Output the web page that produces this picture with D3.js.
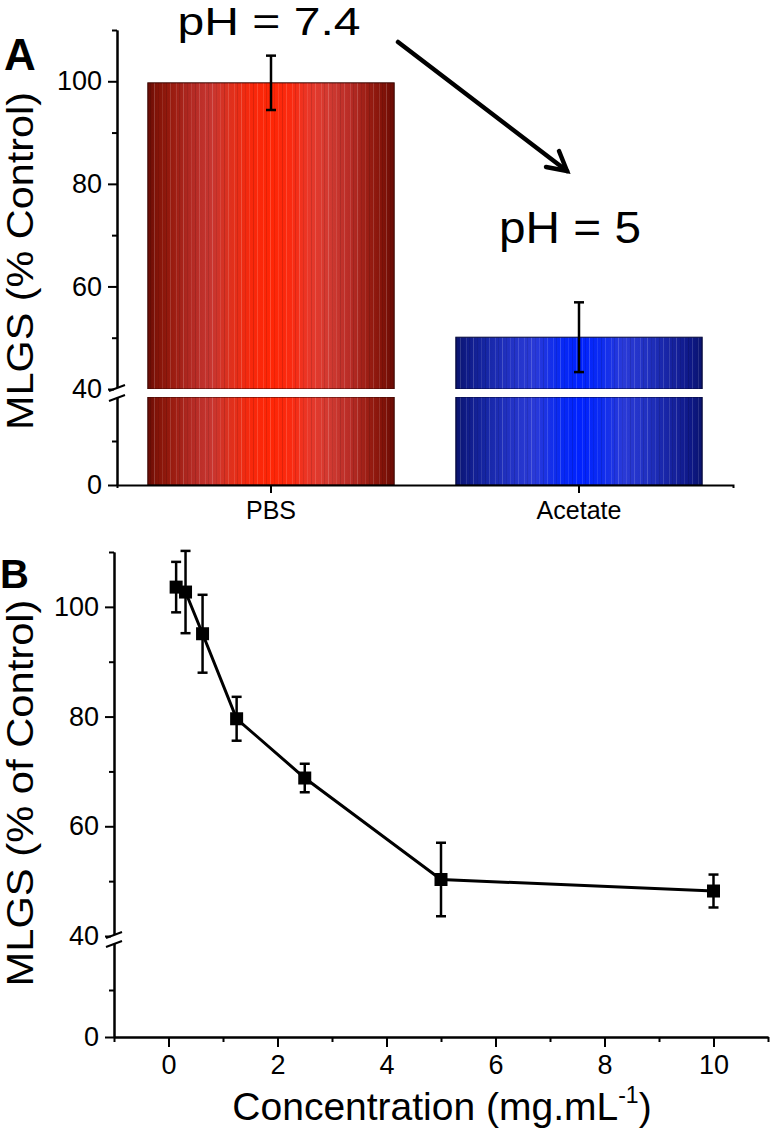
<!DOCTYPE html>
<html><head><meta charset="utf-8">
<script src="https://cdn.jsdelivr.net/npm/d3@7/dist/d3.min.js"></script>
<style>
html,body{margin:0;padding:0;background:#fff;}
svg{display:block;}
text{font-family:"Liberation Sans",Arial,Helvetica,sans-serif;fill:#000;}
</style></head>
<body>
<svg id="chart" width="771" height="1130"></svg>
<script>
// ---------- data ----------
const categories = ["PBS", "Acetate"];
const barValues = [99.7, 50.1];
const barErrors = [5.3, 6.8];
const barColors = ["red", "blue"];
const phLabels = ["pH = 7.4", "pH = 5"];

const concentrations = [0.14, 0.3125, 0.625, 1.25, 2.5, 5, 10];
const mlgs = [103.6, 102.7, 95.1, 79.6, 68.8, 50.3, 48.2];
const mlgsErr = [4.6, 7.5, 7.1, 4.0, 2.6, 6.7, 3.0];

const yMajorUpper = [40, 60, 80, 100];
const yMinorUpper = [50, 70, 90, 110];
const yMajorLower = [0];
const yMinorLower = [20];
const xMajor = [0, 2, 4, 6, 8, 10];
const xMinor = [-1, 1, 3, 5, 7, 9, 11];

const svg = d3.select("#chart");
const FONT = "Liberation Sans, Arial, sans-serif";

// gradients
const defs = svg.append("defs");
function grad(id, stops) {
  const g = defs.append("linearGradient").attr("id", id).attr("x1", "0%").attr("x2", "100%").attr("y1", "0%").attr("y2", "0%");
  stops.forEach(s => g.append("stop").attr("offset", s[0] + "%").attr("stop-color", s[1]));
}
grad("red", [[0,"#6a0c05"],[4,"#841408"],[10,"#9a1c10"],[18,"#b42a24"],[26,"#c83630"],[34,"#e0301c"],[42,"#f8280c"],[50,"#ff2606"],[58,"#fa2a10"],[66,"#e8382a"],[74,"#d03a32"],[82,"#b82c26"],[90,"#981c12"],[96,"#801208"],[100,"#6a0c05"]]);
grad("blue", [[0,"#0a146e"],[5,"#101c8a"],[12,"#1626a4"],[22,"#2232c4"],[32,"#2a3ad8"],[42,"#0a2af2"],[50,"#0022ff"],[58,"#0a2af4"],[68,"#2a3ad8"],[78,"#2030c0"],[88,"#16229e"],[95,"#0e1888"],[100,"#0a146e"]]);

// thin vertical stripe texture
const pat = defs.append("pattern").attr("id", "stripes").attr("patternUnits", "userSpaceOnUse").attr("width", 29).attr("height", 10);
[[2, "#fff", 0.12], [5, "#000", 0.10], [9, "#fff", 0.18], [13, "#000", 0.08], [17, "#fff", 0.10], [21, "#000", 0.12], [25, "#fff", 0.15]].forEach(s => {
  pat.append("rect").attr("x", s[0]).attr("y", 0).attr("width", 1).attr("height", 10).attr("fill", s[1]).attr("opacity", s[2]);
});

function styleAxis(g, fs) {
  g.attr("font-size", null).attr("font-family", null);
  g.selectAll("path.domain").attr("stroke", "#000").attr("stroke-width", 2);
  g.selectAll(".tick line").attr("stroke", "#000").attr("stroke-width", 2);
  g.selectAll(".tick text").style("font-family", FONT).style("font-size", (fs || 27) + "px").attr("fill", "#000");
}
function breakMarks(x, yTop, yBot) {
  svg.append("rect").attr("x", x - 3).attr("y", yTop).attr("width", 6).attr("height", yBot - yTop).attr("fill", "#fff");
  [yTop, yBot].forEach(yy => {
    svg.append("line").attr("x1", x - 8).attr("y1", yy + 3).attr("x2", x + 8).attr("y2", yy - 3)
      .attr("stroke", "#000").attr("stroke-width", 2);
  });
}

// ================= Panel A =================
const A = { left: 117, right: 733, top: 30, brkUp: 389, brkLo: 397, bottom: 485 };
const xA = d3.scaleBand().domain(categories).range([A.left, A.right]).paddingInner(0.2).paddingOuter(0.1);
const yAu = d3.scaleLinear().domain([40, 110]).range([A.brkUp, A.top]);
const yAl = d3.scaleLinear().domain([0, 40]).range([A.bottom, A.brkLo]);

// bars
categories.forEach((c, i) => {
  const x0 = xA(c), w = xA.bandwidth();
  const fill = "url(#" + barColors[i] + ")";
  const edge = i === 0 ? "#3a0804" : "#06093a";
  const segs = [[yAl(40), yAl(0)], [yAu(barValues[i]), yAu(40)]];
  segs.forEach(s => {
    svg.append("rect").attr("x", x0).attr("y", s[0]).attr("width", w).attr("height", s[1] - s[0]).attr("fill", fill);
    svg.append("rect").attr("x", x0).attr("y", s[0]).attr("width", w).attr("height", s[1] - s[0]).attr("fill", "url(#stripes)");
    svg.append("rect").attr("x", x0).attr("y", s[0]).attr("width", w).attr("height", s[1] - s[0]).attr("fill", "none")
      .attr("stroke", edge).attr("stroke-width", 1);
  });
  svg.append("rect").attr("x", x0 - 1).attr("y", yAu(40)).attr("width", w + 2).attr("height", yAl(40) - yAu(40)).attr("fill", "#fff");
  // error bar
  const cx = x0 + w / 2;
  const hi = yAu(barValues[i] + barErrors[i]), lo = yAu(barValues[i] - barErrors[i]);
  svg.append("line").attr("x1", cx).attr("x2", cx).attr("y1", hi).attr("y2", lo).attr("stroke", "#000").attr("stroke-width", 2.5);
  [hi, lo].forEach(yy => svg.append("line").attr("x1", cx - 5).attr("x2", cx + 5).attr("y1", yy).attr("y2", yy).attr("stroke", "#000").attr("stroke-width", 2.5));
});

// axes A
let g;
g = svg.append("g").attr("transform", `translate(${A.left},0)`).call(d3.axisLeft(yAu).tickValues(yMajorUpper).tickSize(9).tickSizeOuter(0).tickPadding(6));
styleAxis(g);
g = svg.append("g").attr("transform", `translate(${A.left},0)`).call(d3.axisLeft(yAu).tickValues(yMinorUpper).tickSize(5).tickSizeOuter(0).tickFormat(""));
styleAxis(g);
g = svg.append("g").attr("transform", `translate(${A.left},0)`).call(d3.axisLeft(yAl).tickValues(yMajorLower).tickSize(9).tickSizeOuter(0).tickPadding(6));
styleAxis(g);
g = svg.append("g").attr("transform", `translate(${A.left},0)`).call(d3.axisLeft(yAl).tickValues(yMinorLower).tickSize(5).tickSizeOuter(0).tickFormat(""));
styleAxis(g);
g = svg.append("g").attr("transform", `translate(0,${A.bottom})`).call(d3.axisBottom(xA).tickSize(8).tickSizeOuter(3).tickPadding(8));
styleAxis(g, 25);
breakMarks(A.left, yAu(40) - 1, yAl(40) + 1);

svg.append("text").attr("transform", "translate(33,261) rotate(-90)").attr("text-anchor", "middle")
  .style("font-size", "36px").attr("textLength", 338).attr("lengthAdjust", "spacingAndGlyphs").text("MLGS (% Control)");
svg.append("text").attr("x", 4).attr("y", 70).style("font-size", "44px").attr("font-weight", "bold").text("A");

// pH annotations
svg.append("text").attr("x", xA(categories[0]) + xA.bandwidth() / 2 - 2).attr("y", 35).attr("text-anchor", "middle")
  .style("font-size", "39px").attr("textLength", 183).attr("lengthAdjust", "spacingAndGlyphs").text(phLabels[0]);
svg.append("text").attr("x", xA(categories[1]) + xA.bandwidth() / 2 - 9).attr("y", 243).attr("text-anchor", "middle")
  .style("font-size", "44px").attr("textLength", 142).attr("lengthAdjust", "spacingAndGlyphs").text(phLabels[1]);
// arrow
const ax0 = 398, ay0 = 42, ax1 = 567, ay1 = 171;
svg.append("line").attr("x1", ax0).attr("y1", ay0).attr("x2", ax1).attr("y2", ay1).attr("stroke", "#000").attr("stroke-width", 4.5).attr("stroke-linecap", "round");
svg.append("path").attr("d", `M${ax1 - 21},${ay1 - 4} L${ax1},${ay1} L${ax1 - 8},${ay1 - 20}`)
  .attr("fill", "none").attr("stroke", "#000").attr("stroke-width", 4.5).attr("stroke-linecap", "round").attr("stroke-linejoin", "miter");

// ================= Panel B =================
const B = { left: 114, right: 768, top: 552, brkUp: 936, brkLo: 943, bottom: 1037 };
const xB = d3.scaleLinear().domain([-1, 11]).range([B.left, B.right]);
const yBu = d3.scaleLinear().domain([40, 110]).range([B.brkUp, B.top]);
const yBl = d3.scaleLinear().domain([0, 40]).range([B.bottom, B.brkLo]);
const yB = v => v >= 40 ? yBu(v) : yBl(v);

g = svg.append("g").attr("transform", `translate(${B.left},0)`).call(d3.axisLeft(yBu).tickValues(yMajorUpper).tickSize(9).tickSizeOuter(0).tickPadding(6));
styleAxis(g);
g = svg.append("g").attr("transform", `translate(${B.left},0)`).call(d3.axisLeft(yBu).tickValues(yMinorUpper).tickSize(5).tickSizeOuter(0).tickFormat(""));
styleAxis(g);
g = svg.append("g").attr("transform", `translate(${B.left},0)`).call(d3.axisLeft(yBl).tickValues(yMajorLower).tickSize(9).tickSizeOuter(0).tickPadding(6));
styleAxis(g);
g = svg.append("g").attr("transform", `translate(${B.left},0)`).call(d3.axisLeft(yBl).tickValues(yMinorLower).tickSize(5).tickSizeOuter(0).tickFormat(""));
styleAxis(g);
g = svg.append("g").attr("transform", `translate(0,${B.bottom})`).call(d3.axisBottom(xB).tickValues(xMajor).tickSize(10).tickSizeOuter(0).tickPadding(8));
styleAxis(g);
g = svg.append("g").attr("transform", `translate(0,${B.bottom})`).call(d3.axisBottom(xB).tickValues(xMinor).tickSize(5).tickSizeOuter(0).tickFormat(""));
styleAxis(g);
breakMarks(B.left, yBu(40) - 1, yBl(40) + 1);

// data line
const pts = concentrations.map((c, i) => ({ x: c, y: mlgs[i], e: mlgsErr[i] }));
svg.append("path").datum(pts).attr("fill", "none").attr("stroke", "#000").attr("stroke-width", 3)
  .attr("d", d3.line().x(d => xB(d.x)).y(d => yB(d.y)));
pts.forEach(d => {
  const cx = xB(d.x), hi = yB(d.y + d.e), lo = yB(d.y - d.e);
  svg.append("line").attr("x1", cx).attr("x2", cx).attr("y1", hi).attr("y2", lo).attr("stroke", "#000").attr("stroke-width", 2.5);
  [hi, lo].forEach(yy => svg.append("line").attr("x1", cx - 5).attr("x2", cx + 5).attr("y1", yy).attr("y2", yy).attr("stroke", "#000").attr("stroke-width", 2.5));
  svg.append("rect").attr("x", cx - 6.5).attr("y", yB(d.y) - 6.5).attr("width", 13).attr("height", 13).attr("fill", "#000");
});

svg.append("text").attr("transform", "translate(33,793) rotate(-90)").attr("text-anchor", "middle")
  .style("font-size", "36px").attr("textLength", 387).attr("lengthAdjust", "spacingAndGlyphs").text("MLGS (% of Control)");
svg.append("text").attr("x", 0).attr("y", 588).style("font-size", "40px").attr("font-weight", "bold").text("B");

const xt = svg.append("text").attr("x", 442).attr("y", 1120).attr("text-anchor", "middle").style("font-size", "39px");
xt.append("tspan").text("Concentration (mg.mL");
xt.append("tspan").style("font-size", "23px").attr("dy", -17).text("-1");
xt.append("tspan").attr("dy", 17).text(")");
</script>
</body></html>
